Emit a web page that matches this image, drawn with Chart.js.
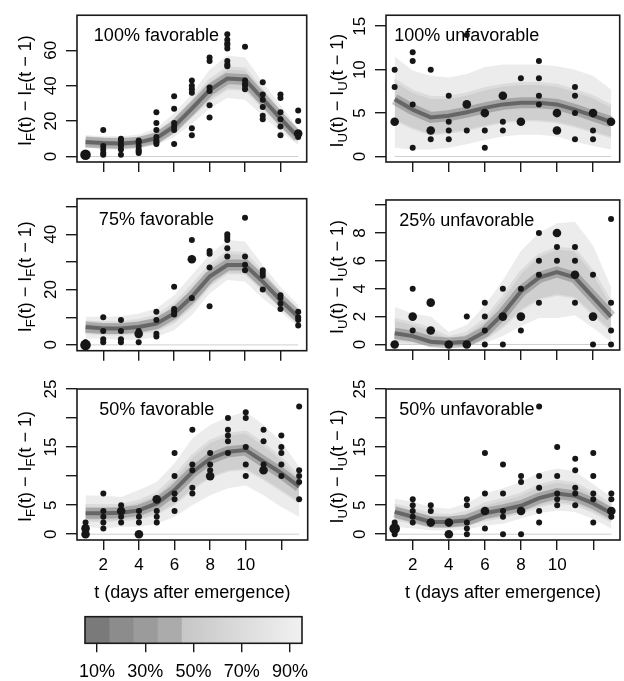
<!DOCTYPE html>
<html lang="en">
<head>
<meta charset="UTF-8" />
<title>Daily incidence – quantile bands</title>
<script src="https://cdn.jsdelivr.net/npm/chart.js"></script>
<style>
  body { margin: 0; background: #fff; }
  #wrap { position: relative; width: 624px; height: 681px; }
  #wrap canvas { position: absolute; }
</style>
</head>
<body>
<div id="wrap"></div>
<script>
  const days = [1, 2, 3, 4, 5, 6, 7, 8, 9, 10, 11, 12, 13];
  const xMin = 0.52, xMax = 13.48;
  const xTicks = [2, 4, 6, 8, 10, 12];
  const xLabels = [2, 4, 6, 8, 10];

  // 100% favorable
  const f100Mid  = [8.2, 7.6, 7.4, 8, 10.4, 17, 27, 37.5, 44, 43.5, 32.5, 21.5, 11];
  const f100Hi90 = [12.2, 11.5, 11.5, 12.5, 16, 24.5, 35.5, 49, 57, 56, 42, 29, 16];
  const f100Lo90 = [4.9, 4.2, 3.8, 4.5, 6.5, 11, 18.5, 27, 33, 32, 23, 14, 6.5];
  const f100Hi50 = [10, 9.5, 9.4, 10, 13, 20.5, 31, 43, 50, 49.5, 37, 25, 13.5];
  const f100Lo50 = [6.5, 6, 5.7, 6.2, 8.3, 13.8, 23, 32, 38.5, 38, 28, 17.5, 8.8];
  const f100Obs = [[1, 1, 1], [15, 6, 4, 2, 1], [10, 9, 7, 6, 4, 1], [9, 8, 6, 4, 3, 2],
    [25, 19, 15, 11, 9, 8, 7], [34, 27, 19, 17, 15, 7], [43, 40, 38, 36, 16, 12],
    [56, 54, 39, 37, 29, 22], [69, 66, 64, 63, 61, 54, 52, 51], [62, 43, 41, 40, 38],
    [42, 35, 32, 28, 23, 21], [35, 33, 25, 21, 17, 12], [26, 20, 13, 13, 12, 11]];
  const f100YTicks = [0, 20, 40, 60];
  const f100YLabels = [0, 20, 40, 60];

  // 100% unfavorable
  const u100Mid  = [6.6, 5.4, 4.5, 4.7, 5.1, 5.6, 6.0, 6.2, 6.2, 6.0, 5.4, 4.7, 4.0];
  const u100Hi90 = [11.5, 9.9, 9.3, 9.1, 9.5, 10.3, 10.6, 10.6, 10.6, 10.4, 10.0, 9.3, 7.7];
  const u100Lo90 = [1.0, 0.8, 0.8, 1.0, 1.4, 1.9, 2.3, 2.5, 2.5, 2.3, 1.7, 1.2, 0.8];
  const u100Hi50 = [8.8, 7.5, 6.8, 6.8, 7.2, 7.8, 8.2, 8.4, 8.4, 8.2, 7.6, 6.9, 5.8];
  const u100Lo50 = [4.3, 3.3, 2.6, 2.8, 3.1, 3.6, 4.0, 4.2, 4.2, 4.0, 3.5, 2.9, 2.3];
  const u100Obs = [[10, 8, 4, 4], [12, 11, 6, 1], [10, 3, 3, 2], [7, 4, 3, 2], [14, 6, 6, 3],
    [5, 5, 3, 1], [7, 7, 4, 3], [9, 4, 4], [11, 9, 7, 6], [5, 5, 3, 3], [8, 7, 5, 2],
    [5, 5, 3, 2], [4, 4]];
  const u100YTicks = [0, 5, 10, 15];
  const u100YLabels = [0, 5, 10, 15];

  // 75% favorable
  const f75Mid  = [6.5, 5.9, 5.9, 6.5, 7.7, 11.4, 17.4, 24.7, 28.9, 28.9, 22.9, 16.2, 10.2];
  const f75Hi90 = [10.2, 10.2, 10.4, 11.4, 13.2, 18, 25.3, 32.5, 38, 37.4, 28.9, 21, 14.4];
  const f75Lo90 = [2.3, 2.3, 1.9, 1.9, 2.9, 5.3, 10.8, 18.6, 23.5, 22.9, 16.8, 12, 6.5];
  const f75Hi50 = [8.3, 8.0, 8.1, 8.9, 10.4, 14.6, 21.3, 28.5, 33.5, 33, 26, 18.6, 12.3];
  const f75Lo50 = [4.4, 4.0, 3.9, 4.3, 5.3, 8.4, 14, 21.6, 26.2, 26, 20, 14, 8.4];
  const f75Obs = [[0, 0, 0, 1], [10, 5, 2, 1], [9, 5, 2, 1], [5, 4, 4, 1], [12, 9, 4, 3],
    [21, 13, 12, 11], [38, 31, 31, 17], [34, 33, 28, 14], [40, 39, 38, 35, 32],
    [46, 32, 29, 27], [27, 26, 25, 20], [18, 17, 15, 13], [12, 10, 9, 7]];
  const f75YTicks = [0, 10, 20, 30, 40, 50];
  const f75YLabels = [0, 20, 40];

  // 25% unfavorable
  const u25Mid  = [0.8, 0.6, 0.2, 0.1, 0.2, 0.9, 2.2, 3.8, 4.8, 5.2, 4.8, 3.4, 2.0];
  const u25Hi90 = [2.7, 2.2, 2.0, 0.9, 1.4, 2.8, 4.6, 6.7, 8.0, 8.7, 8.8, 7.1, 4.1];
  const u25Lo90 = [0, 0, 0, 0, 0, 0.1, 0.6, 1.3, 1.9, 1.9, 2.1, 1.2, 0.2];
  const u25Hi50 = [1.8, 1.5, 1.1, 0.5, 0.8, 1.8, 3.4, 5.2, 6.4, 6.9, 6.8, 5.2, 3.0];
  const u25Lo50 = [0.3, 0.2, 0, 0, 0, 0.4, 1.3, 2.5, 3.3, 3.6, 3.4, 2.2, 1.0];
  const u25Obs = [[0, 0], [4, 2, 2, 1], [3, 3, 1, 1], [0, 0], [2, 0, 0], [3, 2, 1, 0],
    [4, 2, 2, 0], [4, 2, 2, 1], [8, 6, 5, 3], [8, 8, 7, 6], [7, 6, 5, 5, 3], [5, 2, 2, 0],
    [9, 3, 1, 0]];
  const u25YTicks = [0, 2, 4, 6, 8, 10];
  const u25YLabels = [0, 2, 4, 6, 8];

  // 50% favorable
  const f50Mid  = [3.6, 3.6, 3.7, 4.1, 5.3, 7.6, 10.7, 13, 14.2, 14.5, 12.5, 10.5, 8.2];
  const f50Hi90 = [6.7, 6.6, 6.4, 7.6, 9.0, 12.2, 16.5, 18.8, 20.2, 21.1, 18.8, 15.9, 11.6];
  const f50Lo90 = [1.3, 1.0, 1.3, 1.3, 1.8, 3.0, 5.0, 6.7, 7.9, 8.4, 6.7, 4.7, 3.0];
  const f50Hi50 = [5.0, 4.9, 5.0, 5.7, 7.0, 9.8, 13.5, 16, 17.2, 17.6, 15.5, 13, 9.8];
  const f50Lo50 = [2.4, 2.3, 2.5, 2.7, 3.6, 5.3, 7.9, 9.9, 11, 11.3, 9.6, 7.6, 5.6];
  const f50Obs = [[2, 1, 1, 0, 0], [7, 4, 3, 2, 1], [5, 4, 4, 3, 2], [4, 3, 2, 0, 0],
    [6, 6, 4, 3, 2], [14, 10, 7, 6, 4], [18, 12, 11, 8, 7], [14, 12, 11, 10, 10],
    [20, 18, 17, 16, 14], [21, 20, 15, 12, 10], [18, 16, 12, 11, 11], [17, 15, 14, 12, 10],
    [22, 11, 10, 9, 6]];
  const f50YTicks = [0, 5, 10, 15, 20, 25];
  const f50YLabels = [0, 5, 15, 25];

  // 50% unfavorable
  const u50Mid  = [3.85, 3.0, 2.1, 2.1, 2.4, 3.6, 4.2, 4.9, 6.2, 7.0, 6.6, 5.3, 3.6];
  const u50Hi90 = [6.1, 5.6, 4.7, 4.4, 5.3, 7.0, 7.9, 9.0, 10.6, 11.3, 10.8, 8.6, 6.4];
  const u50Lo90 = [1.3, 1.0, 0.7, 0.6, 0.8, 1.5, 1.8, 2.7, 3.6, 4.1, 3.8, 2.6, 1.0];
  const u50Hi50 = [5.0, 4.3, 3.4, 3.2, 3.8, 5.2, 6.0, 6.9, 8.4, 9.1, 8.7, 7.0, 5.0];
  const u50Lo50 = [2.6, 2.0, 1.4, 1.3, 1.6, 2.5, 3.0, 3.8, 4.9, 5.5, 5.2, 3.9, 2.3];
  const u50Obs = [[2, 1, 1, 1, 0], [6, 5, 4, 3, 2], [5, 4, 2, 2], [2, 2, 0, 0], [6, 5, 2, 1, 0],
    [14, 7, 4, 4, 1], [12, 7, 4, 3, 0], [10, 9, 4, 4, 0], [22, 10, 8, 4, 2], [15, 10, 7, 6, 5],
    [13, 11, 8, 7, 5], [14, 10, 7, 6, 2], [7, 6, 4, 4, 3]];
  const u50YTicks = [0, 5, 10, 15, 20, 25];
  const u50YLabels = [0, 5, 15, 25];

  // colour key
  const keyLevels = [10, 20, 30, 40, 50, 60, 70, 80, 90];
  const keyTicks = [10, 30, 50, 70, 90];

  const FONT = '"Liberation Sans", Arial, Helvetica, sans-serif';
  Chart.defaults.font.family = FONT;
  Chart.defaults.color = '#000';

  const panels = [
    { title: '100% favorable', sub: 'F', row: 0, col: 0, yMin: -3.1, yMax: 79.8,
      mid: f100Mid, hi90: f100Hi90, lo90: f100Lo90, hi50: f100Hi50, lo50: f100Lo50, obs: f100Obs, yTicks: f100YTicks, yLabels: f100YLabels },
    { title: '100% unfavorable', sub: 'U', row: 0, col: 1, yMin: -0.63, yMax: 16.26,
      mid: u100Mid, hi90: u100Hi90, lo90: u100Lo90, hi50: u100Hi50, lo50: u100Lo50, obs: u100Obs, yTicks: u100YTicks, yLabels: u100YLabels },
    { title: '75% favorable', sub: 'F', row: 1, col: 0, yMin: -2.1, yMax: 52.9,
      mid: f75Mid, hi90: f75Hi90, lo90: f75Lo90, hi50: f75Hi50, lo50: f75Lo50, obs: f75Obs, yTicks: f75YTicks, yLabels: f75YLabels },
    { title: '25% unfavorable', sub: 'U', row: 1, col: 1, yMin: -0.4, yMax: 10.37,
      mid: u25Mid, hi90: u25Hi90, lo90: u25Lo90, hi50: u25Hi50, lo50: u25Lo50, obs: u25Obs, yTicks: u25YTicks, yLabels: u25YLabels },
    { title: '50% favorable', sub: 'F', row: 2, col: 0, yMin: -1.0, yMax: 25.0,
      mid: f50Mid, hi90: f50Hi90, lo90: f50Lo90, hi50: f50Hi50, lo50: f50Lo50, obs: f50Obs, yTicks: f50YTicks, yLabels: f50YLabels },
    { title: '50% unfavorable', sub: 'U', row: 2, col: 1, yMin: -1.0, yMax: 25.0,
      mid: u50Mid, hi90: u50Hi90, lo90: u50Lo90, hi50: u50Hi50, lo50: u50Lo50, obs: u50Obs, yTicks: u50YTicks, yLabels: u50YLabels }
  ];

  // canvas placement and plot box inside each canvas
  const rows = [
    { top: 0, h: 180, T: 9.3, B: 162 },
    { top: 180, h: 190, T: 18.7, B: 170.7 },
    { top: 370, h: 240, T: 19, B: 170 }
  ];
  const cols = [
    { left: 0, w: 312, L: 77, R: 310 },
    { left: 312, w: 312, L: 74, R: 308 }
  ];

  const wrap = document.getElementById('wrap');
  const measure = document.createElement('canvas').getContext('2d');

  function makeCanvas(left, top, w, h) {
    const c = document.createElement('canvas');
    c.width = w; c.height = h;
    c.style.left = left + 'px'; c.style.top = top + 'px';
    c.style.width = w + 'px'; c.style.height = h + 'px';
    wrap.appendChild(c);
    return c;
  }

  function series(arr) {
    return days.map((d, i) => ({ x: d, y: arr[i] }));
  }

  // one dot per distinct value, bigger when values coincide
  function dots(obs) {
    const out = [];
    obs.forEach((vals, i) => {
      const counts = {};
      vals.forEach(v => { counts[v] = (counts[v] || 0) + 1; });
      Object.keys(counts).forEach(v => out.push({ x: days[i], y: +v, n: counts[v] }));
    });
    return out;
  }

  function drawYTitle(ctx, x, y, sub) {
    const parts = [['I', 18, 0], [sub, 13, 4], ['(t) \u2212 I', 18, 0], [sub, 13, 4], ['(t \u2212 1)', 18, 0]];
    let total = 0;
    parts.forEach(p => { ctx.font = p[1] + 'px ' + FONT; p.push(ctx.measureText(p[0]).width); total += p[3]; });
    ctx.save();
    ctx.translate(x, y);
    ctx.rotate(-Math.PI / 2);
    ctx.fillStyle = '#000';
    ctx.textBaseline = 'alphabetic';
    ctx.textAlign = 'left';
    let cx = -total / 2;
    parts.forEach(p => {
      ctx.font = p[1] + 'px ' + FONT;
      ctx.fillText(p[0], cx, 6 + p[2]);
      cx += p[3];
    });
    ctx.restore();
  }

  const panelDecor = {
    id: 'panelDecor',
    beforeDatasetsDraw(chart, args, opts) {
      const { ctx, chartArea: a, scales: { x } } = chart;
      ctx.save();
      ctx.font = '18px ' + FONT;
      ctx.fillStyle = '#000';
      ctx.textAlign = 'center';
      ctx.textBaseline = 'middle';
      ctx.fillText(opts.title, x.getPixelForValue(5), a.top + 21);
      ctx.restore();
    },
    afterDraw(chart, args, opts) {
      const { ctx, chartArea: a } = chart;
      ctx.save();
      ctx.strokeStyle = '#1a1a1a';
      ctx.lineWidth = 1.6;
      ctx.strokeRect(a.left, a.top, a.right - a.left, a.bottom - a.top);
      ctx.restore();
      drawYTitle(ctx, 25, (a.top + a.bottom) / 2 + 2, opts.sub);
    }
  };

  panels.forEach(p => {
    const row = rows[p.row], col = cols[p.col];
    const bottom = p.row === 2;
    const canvas = makeCanvas(col.left, row.top, col.w, row.h);
    measure.font = '17px ' + FONT;
    const widest = Math.max(...p.yLabels.map(v => measure.measureText(String(v)).width));

    new Chart(canvas, {
      type: 'line',
      data: {
        datasets: [
          { data: dots(p.obs), showLine: false, order: 0, clip: false,
            pointRadius: c => (c.raw.n >= 3 ? 5.3 : c.raw.n === 2 ? 4.3 : 3),
            pointBackgroundColor: '#161616', pointBorderWidth: 0 },
          { data: series(p.mid), order: 1, borderColor: 'rgba(60,60,60,0.6)', borderWidth: 4, pointRadius: 0, fill: false },
          { data: series(p.mid), order: 2, borderColor: 'rgba(80,80,80,0.32)', borderWidth: 11, pointRadius: 0, fill: false },
          { data: days.map(d => ({ x: d, y: 0 })), order: 3, borderColor: '#cfcfcf', borderWidth: 1, pointRadius: 0, fill: false },
          { data: series(p.lo50), order: 5, borderColor: '#dcdcdc', borderWidth: 3, pointRadius: 0, fill: false },
          { data: series(p.hi50), order: 4, borderColor: '#dcdcdc', borderWidth: 3, pointRadius: 0, fill: 4, backgroundColor: '#cfcfcf' },
          { data: series(p.lo90), order: 7, borderWidth: 0, pointRadius: 0, fill: false },
          { data: series(p.hi90), order: 6, borderWidth: 0, pointRadius: 0, fill: 6, backgroundColor: '#ececec' }
        ]
      },
      options: {
        responsive: false,
        animation: false,
        devicePixelRatio: 1,
        layout: { padding: { top: row.T, right: col.w - col.R, left: 0, bottom: 0 } },
        elements: { line: { tension: 0 } },
        plugins: {
          legend: { display: false },
          tooltip: { enabled: false },
          panelDecor: { title: p.title, sub: p.sub }
        },
        scales: {
          x: {
            type: 'linear', min: xMin, max: xMax,
            afterBuildTicks: s => { s.ticks = xTicks.map(v => ({ value: v })); },
            afterFit: s => { s.height = row.h - row.B; },
            grid: { drawOnChartArea: false, tickLength: 10, color: '#1a1a1a', lineWidth: 1.4 },
            border: { display: false },
            ticks: { autoSkip: false, maxRotation: 0, padding: 5.5, font: { size: 17 },
              callback: v => (bottom && xLabels.includes(v) ? String(v) : '') },
            title: { display: bottom, text: 't (days after emergence)', font: { size: 18 },
              padding: { top: 0, bottom: 6 } }
          },
          y: {
            type: 'linear', min: p.yMin, max: p.yMax,
            afterBuildTicks: s => { s.ticks = p.yTicks.map(v => ({ value: v })); },
            afterFit: s => { s.width = col.L; },
            grid: { drawOnChartArea: false, tickLength: 11, color: '#1a1a1a', lineWidth: 1.4 },
            border: { display: false },
            ticks: { autoSkip: false, minRotation: 90, maxRotation: 90, crossAlign: 'center',
              padding: 25.5 - 11 - widest / 2, font: { size: 17 },
              callback: v => (p.yLabels.includes(v) ? String(v) : '') }
          }
        }
      },
      plugins: [panelDecor]
    });
  });

  // colour key below the left column
  const keyDark = ['#7a7a7a', '#8c8c8c', '#9b9b9b', '#ababab'];
  function keyShade(c, i) {
    if (i < keyDark.length) return keyDark[i];
    const chart = c.chart;
    if (!chart.chartArea) return '#dddddd';
    const x = chart.scales.x;
    const g = chart.ctx.createLinearGradient(x.getPixelForValue(45), 0, x.getPixelForValue(95), 0);
    g.addColorStop(0, '#c6c6c6');
    g.addColorStop(1, '#f1f1f1');
    return g;
  }
  const keyFrame = {
    id: 'keyFrame',
    afterDraw(chart) {
      const { ctx, chartArea: a } = chart;
      ctx.save();
      ctx.strokeStyle = '#1a1a1a';
      ctx.lineWidth = 1.6;
      ctx.strokeRect(a.left, a.top, a.right - a.left, a.bottom - a.top);
      ctx.restore();
    }
  };
  const keyCanvas = makeCanvas(0, 600, 330, 81);
  new Chart(keyCanvas, {
    type: 'bar',
    data: {
      labels: [''],
      datasets: keyLevels.map((lv, i) => ({
        data: [[lv - 5, lv + 5]],
        backgroundColor: c => keyShade(c, i),
        borderWidth: 0, barPercentage: 1, categoryPercentage: 1, grouped: false
      }))
    },
    options: {
      indexAxis: 'y',
      responsive: false,
      animation: false,
      devicePixelRatio: 1,
      layout: { padding: { top: 16.7, left: 85, right: 28, bottom: 0 } },
      plugins: { legend: { display: false }, tooltip: { enabled: false } },
      scales: {
        x: {
          type: 'linear', min: 5, max: 95,
          afterBuildTicks: s => { s.ticks = keyTicks.map(v => ({ value: v })); },
          afterFit: s => { s.height = 81 - 43.3; },
          grid: { drawOnChartArea: false, tickLength: 9, color: '#1a1a1a', lineWidth: 1.4 },
          border: { display: false },
          ticks: { autoSkip: false, maxRotation: 0, padding: 9, font: { size: 18 }, callback: v => v + '%' }
        },
        y: { display: false }
      }
    },
    plugins: [keyFrame]
  });
</script>
</body>
</html>
